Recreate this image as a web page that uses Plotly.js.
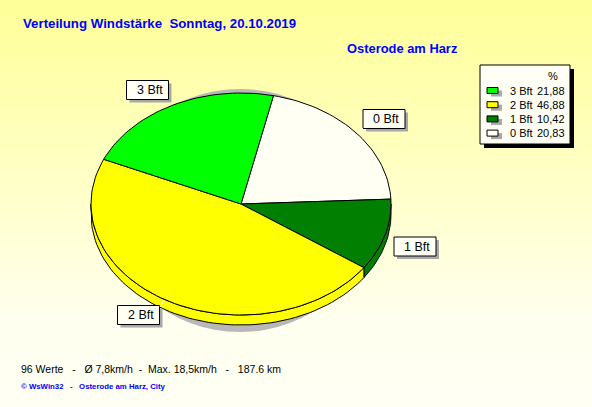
<!DOCTYPE html>
<html>
<head>
<meta charset="utf-8">
<script src="https://cdn.plot.ly/plotly-3.0.1.min.js"></script>
<style>
  html, body { margin: 0; padding: 0; }
  body { width: 592px; height: 407px; background: linear-gradient(to bottom, #FFFF99 0%, #FFFFC8 45%, #FFFFF0 80%, #FFFFF4 100%); overflow: hidden; }
  #chart { width: 592px; height: 407px; }
</style>
</head>
<body>
<div id="chart"></div>
<script>
// ---- data ----
const labels = ['3 Bft', '2 Bft', '1 Bft', '0 Bft'];
const percent = [21.88, 46.88, 10.42, 20.83];
const colors = ['#00FF00', '#FFFF00', '#007F00', '#FFFFF4'];
const titleText = 'Verteilung Windstärke\u00A0\u00A0Sonntag, 20.10.2019';
const subtitleText = 'Osterode am Harz';
const footerText = '96 Werte\u00A0\u00A0\u00A0-\u00A0\u00A0\u00A0Ø 7,8km/h\u00A0\u00A0-\u00A0\u00A0Max. 18,5km/h\u00A0\u00A0\u00A0-\u00A0\u00A0\u00A0187.6 km';
const creditText = '© WsWin32\u00A0\u00A0\u00A0-\u00A0\u00A0\u00A0Osterode am Harz, City';

// ---- geometry / style ----
const CX = 241, CY = 204, RX = 150, RY = 111, DEPTH = 10, START = 12.5;
const labelBoxes = { '3 Bft': [147.5, 90], '0 Bft': [384, 119], '1 Bft': [415, 246.5], '2 Bft': [138.5, 315] };
const FONT = 'Liberation Sans, Arial, sans-serif';

function pt(deg, dy) {
  const r = deg * Math.PI / 180;
  return [CX + RX * Math.sin(r), CY - RY * Math.cos(r) + (dy || 0)];
}
function arc(a, b, dy) {
  const n = Math.max(2, Math.ceil(Math.abs(b - a) / 2));
  const out = [];
  for (let k = 0; k <= n; k++) out.push(pt(a + (b - a) * k / n, dy));
  return out;
}

const total = percent.reduce((s, v) => s + v, 0);
const order = [3, 2, 1, 0]; // clockwise from START
const slices = [];
let a = START;
order.forEach(i => {
  const b = a + percent[i] / total * 360;
  slices.push({ i, a, b });
  a = b;
});

const sideTraces = [];
const topTraces = [];
slices.forEach(s => {
  [[90, 270], [450, 630]].forEach(([v0, v1]) => {
    const lo = Math.max(s.a, v0), hi = Math.min(s.b, v1);
    if (lo < hi) {
      const pts = arc(lo, hi, 0).concat(arc(hi, lo, DEPTH));
      pts.push(pts[0]);
      sideTraces.push({
        type: 'scatter', mode: 'lines', x: pts.map(p => p[0]), y: pts.map(p => p[1]),
        fill: 'toself', fillcolor: colors[s.i], line: { color: '#000', width: 1 },
        hoverinfo: 'skip', showlegend: false
      });
    }
  });
  const pts = [[CX, CY]].concat(arc(s.a, s.b, 0));
  pts.push([CX, CY]);
  topTraces.push({
    type: 'scatter', mode: 'lines', x: pts.map(p => p[0]), y: pts.map(p => p[1]),
    fill: 'toself', fillcolor: colors[s.i], line: { color: '#000', width: 1 },
    hoverinfo: 'skip', showlegend: false, name: labels[s.i]
  });
});

const shapes = [];
const annotations = [];

// pie shadow
shapes.push({ type: 'circle', xref: 'x', yref: 'y', x0: 108, x1: 372, y0: 89, y1: 332,
  fillcolor: '#B8B8B8', line: { width: 0 }, layer: 'below' });

// label boxes
labels.forEach(l => {
  const [bx, by] = labelBoxes[l];
  shapes.push({ type: 'rect', xref: 'x', yref: 'y', x0: bx - 21 + 3, x1: bx + 21 + 3, y0: by - 9.5 + 3, y1: by + 9.5 + 3,
    fillcolor: '#A8A8A8', line: { width: 0 } });
  shapes.push({ type: 'rect', xref: 'x', yref: 'y', x0: bx - 21, x1: bx + 21, y0: by - 9.5, y1: by + 9.5,
    fillcolor: '#FFFFF4', line: { color: '#000', width: 1 } });
  annotations.push({ xref: 'x', yref: 'y', x: bx + 2, y: by, text: l, showarrow: false,
    xanchor: 'center', yanchor: 'middle', font: { family: FONT, size: 12.5, color: '#000' } });
});
// leader lines
shapes.push({ type: 'line', xref: 'x', yref: 'y', x0: 363, y0: 128, x1: 357, y1: 133, line: { color: '#FFFFFF', width: 1 } });
shapes.push({ type: 'line', xref: 'x', yref: 'y', x0: 160, y0: 307, x1: 164, y1: 300, line: { color: '#FFFFFF', width: 1 } });

// legend box
shapes.push({ type: 'rect', xref: 'x', yref: 'y', x0: 484, x1: 574, y0: 69, y1: 148, fillcolor: '#000', line: { width: 0 } });
shapes.push({ type: 'rect', xref: 'x', yref: 'y', x0: 480, x1: 570, y0: 65, y1: 144, fillcolor: '#FFFFF5', line: { color: '#000', width: 1 } });
annotations.push({ xref: 'x', yref: 'y', x: 552.5, y: 76, text: '%', showarrow: false,
  xanchor: 'center', yanchor: 'middle', font: { family: FONT, size: 11, color: '#000' } });
labels.forEach((l, k) => {
  const ry = 90.5 + 14.2 * k;
  shapes.push({ type: 'rect', xref: 'x', yref: 'y', x0: 491, x1: 502, y0: ry - 0, y1: ry + 6, fillcolor: '#A8A8A8', line: { width: 0 } });
  shapes.push({ type: 'rect', xref: 'x', yref: 'y', x0: 487, x1: 498, y0: ry - 3, y1: ry + 3, fillcolor: colors[k], line: { color: '#000', width: 1 } });
  annotations.push({ xref: 'x', yref: 'y', x: 508, y: ry, text: l, showarrow: false,
    xanchor: 'left', yanchor: 'middle', font: { family: FONT, size: 11, color: '#000' } });
  annotations.push({ xref: 'x', yref: 'y', x: 567, y: ry, text: percent[k].toFixed(2).replace('.', ','), showarrow: false,
    xanchor: 'right', yanchor: 'middle', font: { family: FONT, size: 11, color: '#000' } });
});

// texts
annotations.push({ xref: 'x', yref: 'y', x: 21, y: 23, text: '<b>' + titleText + '</b>', showarrow: false,
  xanchor: 'left', yanchor: 'middle', font: { family: FONT, size: 13.25, color: '#0000FF' } });
annotations.push({ xref: 'x', yref: 'y', x: 345, y: 48.5, text: '<b>' + subtitleText + '</b>', showarrow: false,
  xanchor: 'left', yanchor: 'middle', font: { family: FONT, size: 12.9, color: '#0000FF' } });
annotations.push({ xref: 'x', yref: 'y', x: 19, y: 369, text: footerText, showarrow: false,
  xanchor: 'left', yanchor: 'middle', font: { family: FONT, size: 10.5, color: '#000' } });
annotations.push({ xref: 'x', yref: 'y', x: 19, y: 386, text: '<b>' + creditText + '</b>', showarrow: false,
  xanchor: 'left', yanchor: 'middle', font: { family: FONT, size: 7.8, color: '#0000FF' } });

const layout = {
  width: 592, height: 407,
  margin: { l: 0, r: 0, t: 0, b: 0, pad: 0 },
  paper_bgcolor: 'rgba(0,0,0,0)', plot_bgcolor: 'rgba(0,0,0,0)',
  xaxis: { range: [0, 592], visible: false, fixedrange: true },
  yaxis: { range: [407, 0], visible: false, fixedrange: true },
  showlegend: false,
  shapes, annotations
};

Plotly.newPlot('chart', sideTraces.concat(topTraces), layout, { displayModeBar: false, staticPlot: true });
</script>
</body>
</html>
